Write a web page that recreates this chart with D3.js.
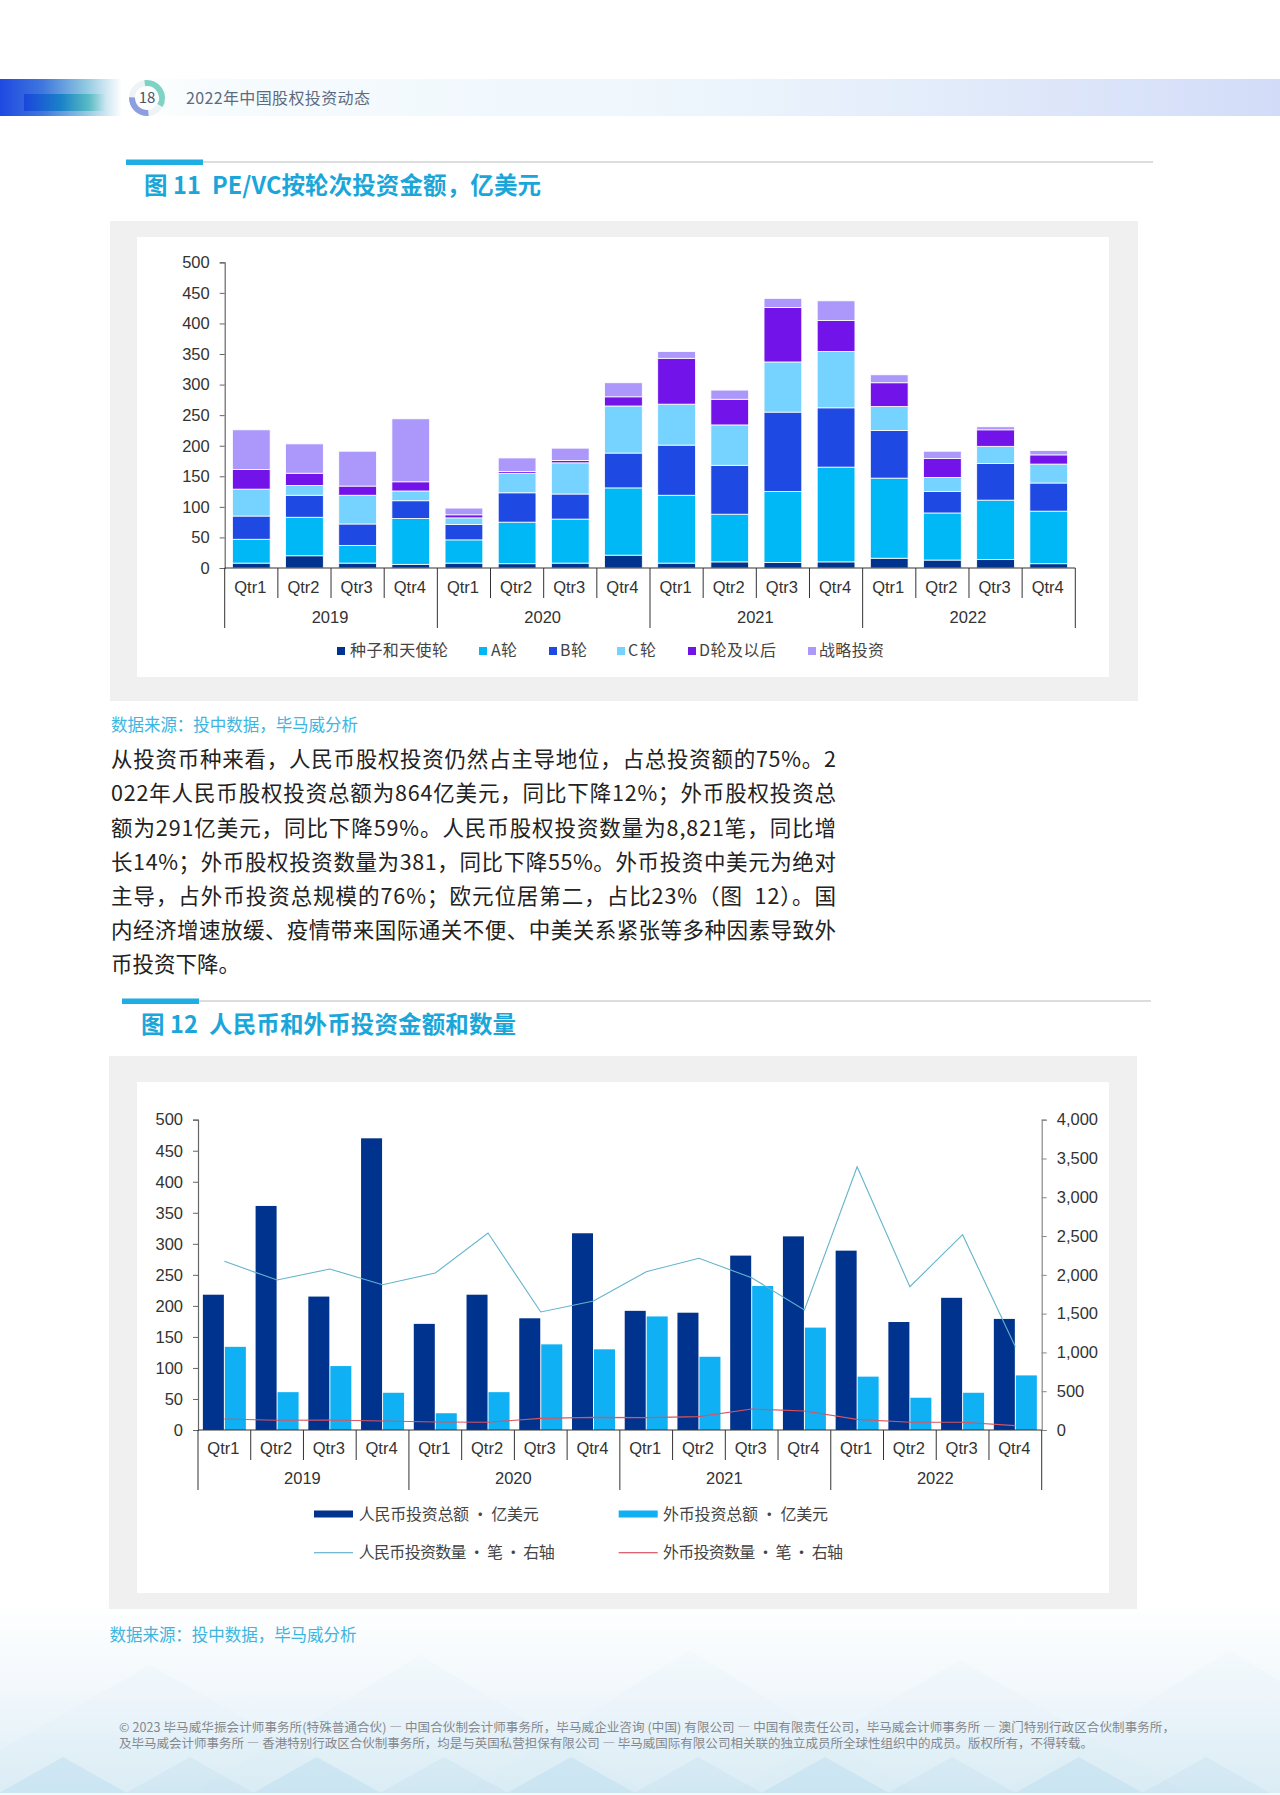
<!DOCTYPE html>
<html lang="zh"><head><meta charset="utf-8">
<script src="https://cdn.jsdelivr.net/npm/d3@7"></script>
<style>
html,body{margin:0;padding:0;background:#fff}
svg{display:block}
text{white-space:pre}
.cjk{font-family:"Noto Sans CJK SC","Noto Sans",sans-serif}
.lat{font-family:"Liberation Sans",Arial,sans-serif}
</style></head><body>
<svg id="page" width="1280" height="1795" viewBox="0 0 1280 1795"></svg>
<script>
// ---------- data ----------
const years = ["2019","2020","2021","2022"];
const quarters = ["Qtr1","Qtr2","Qtr3","Qtr4"];
const roundNames = ["种子和天使轮","A轮","B轮","C轮","D轮及以后","战略投资"];
const roundColors = ["#00338D","#00B8F5","#1E49E2","#76D2FF","#7213EA","#AC98FB"];
const seedAngel = [8,20,8,6,8,7,8,21,8,10,9,10,16,13,14,7];
const roundA = [39,63,29,75,38,68,72,110,111,78,116,155,131,77,97,86];
const roundB = [38,36,35,29,25,48,41,57,82,80,130,97,78,35,60,46];
const roundC = [44,16,47,16,11,32,51,77,67,66,82,92,39,23,28,31];
const roundD = [32,20,15,15,5,3,4,15,75,42,89,51,39,31,27,15];
const strategic = [65,48,57,103,11,22,20,23,11,15,15,32,13,12,5,7];
const rmbAmount = [218,361,215,470,171,218,180,317,192,189,281,312,289,174,213,179];
const fxAmount = [134,61,103,60,27,61,138,130,183,118,232,165,86,52,60,88];
const rmbCount = [2174,1933,2075,1873,2024,2539,1521,1663,2041,2213,1963,1547,3394,1847,2518,1074];
const fxCount = [142,125,129,116,103,99,150,163,159,172,271,245,137,99,99,56];
const leftTicks = [0,50,100,150,200,250,300,350,400,450,500];
const rightTicks = [0,500,1000,1500,2000,2500,3000,3500,4000];
const bodyLines = [
 "从投资币种来看，人民币股权投资仍然占主导地位，占总投资额的75%。2",
 "022年人民币股权投资总额为864亿美元，同比下降12%；外币股权投资总",
 "额为291亿美元，同比下降59%。人民币股权投资数量为8,821笔，同比增",
 "长14%；外币股权投资数量为381，同比下降55%。外币投资中美元为绝对",
 "主导，占外币投资总规模的76%；欧元位居第二，占比23%（图  12）。国",
 "内经济增速放缓、疫情带来国际通关不便、中美关系紧张等多种因素导致外",
 "币投资下降。"];
const footerLines = [
 "© 2023 毕马威华振会计师事务所(特殊普通合伙) — 中国合伙制会计师事务所，毕马威企业咨询 (中国) 有限公司 — 中国有限责任公司，毕马威会计师事务所 — 澳门特别行政区合伙制事务所，",
 "及毕马威会计师事务所 — 香港特别行政区合伙制事务所，均是与英国私营担保有限公司 — 毕马威国际有限公司相关联的独立成员所全球性组织中的成员。版权所有，不得转载。"];
const sourceText = "数据来源：投中数据，毕马威分析";

// ---------- helpers ----------
const svg = d3.select("#page");
const defs = svg.append("defs");
function grad(id, stops, vertical){
  const g = defs.append("linearGradient").attr("id",id)
    .attr("x1",0).attr("y1",0).attr("x2",vertical?0:1).attr("y2",vertical?1:0);
  stops.forEach(s=>g.append("stop").attr("offset",s[0]).attr("stop-color",s[1]).attr("stop-opacity",s[2]===undefined?1:s[2]));
}
function label(parent,x,y,str,size,color,opts={}){
  const isLat = opts.cls==="lat";
  const t = parent.append("text").attr("x",x-(isLat?1:0)).attr("y",y-(isLat?1:1.5)).text(str)
    .attr("class",opts.cls||"cjk").attr("font-size",size).attr("fill",color)
    .attr("text-anchor",opts.anchor||"start").attr("dominant-baseline","central");
  if(opts.weight) t.attr("font-weight",opts.weight);
  if(opts.len) t.attr("textLength",opts.len).attr("lengthAdjust","spacing");
  return t;
}
const allQuarters = years.flatMap(y=>quarters.map(q=>y+q));

// ---------- page background ----------
grad("foot",[[0,"#ffffff"],[.45,"#f2f8fc"],[1,"#dcedf6"]],true);
svg.append("rect").attr("x",0).attr("y",1600).attr("width",1280).attr("height",195).attr("fill","url(#foot)");
const bigPeaks = [[150,1665],[420,1655],[690,1650],[960,1660],[1230,1650]];
svg.append("g").selectAll("path").data(bigPeaks).join("path")
  .attr("d",d=>`M${d[0]-230},1795L${d[0]},${d[1]}L${d[0]+230},1795Z`)
  .attr("fill","#c6e2f0").attr("opacity",.07);
const smallPeaks = d3.range(10).map(i=>63+127*i);
svg.append("g").selectAll("path").data(smallPeaks).join("path")
  .attr("d",d=>`M${d-64},1793L${d},1757L${d+64},1793Z`)
  .attr("fill","#a9d4ea").attr("opacity",(d,i)=>i%2?.18:.3);
svg.append("rect").attr("x",0).attr("y",1793).attr("width",1280).attr("height",2).attr("fill","#f4f9fc");

// ---------- header ----------
grad("band",[[0,"#ffffff"],[.08,"#f6fbfd"],[.45,"#eff7fd"],[.72,"#e2ebfa"],[1,"#d2dcf8"]]);
grad("bandL",[[0,"#1e49e2"],[.35,"#3f77dd"],[.7,"#8fc8e0"],[1,"#ffffff"]]);
grad("bandI",[[0,"#1a46dc"],[.45,"#1a82c8"],[.8,"#52b9c0",.85],[1,"#7fd0c8",0]]);
svg.append("rect").attr("x",122).attr("y",79).attr("width",1158).attr("height",37).attr("fill","url(#band)");
svg.append("rect").attr("x",0).attr("y",79).attr("width",122).attr("height",37).attr("fill","url(#bandL)");
svg.append("rect").attr("x",24).attr("y",94).attr("width",82).attr("height",17).attr("fill","url(#bandI)");
const ring = d3.arc().innerRadius(12).outerRadius(18);
const ringG = svg.append("g").attr("transform","translate(147,98)");
ringG.append("circle").attr("r",15).attr("fill","none").attr("stroke","#eef3f6").attr("stroke-width",6);
ringG.append("path").attr("d",ring({startAngle:-.15,endAngle:2.1})).attr("fill","#7fd3c5");
ringG.append("path").attr("d",ring({startAngle:3.05,endAngle:4.75})).attr("fill","#8c9de0");
label(ringG,0,0,"18",15,"#4a5568",{anchor:"middle"});
label(svg,186,98.5,"2022年中国股权投资动态",16,"#5c6b80",{len:184});

// ---------- section titles ----------
function section(x0,x1,y,title,tx,tlen){
  svg.append("rect").attr("x",x0).attr("y",y-.75).attr("width",x1-x0).attr("height",1.5).attr("fill","#cfd2d4");
  svg.append("rect").attr("x",x0).attr("y",y-2.5).attr("width",77).attr("height",5.5).attr("fill","#1eaee3");
  label(svg,tx,y+23,title,23.5,"#1ba6da",{weight:700,len:tlen});
}
section(126,1153,162,"图 11  PE/VC按轮次投资金额，亿美元",144,397);
section(122,1151,1001,"图 12  人民币和外币投资金额和数量",141,375);

// ---------- panels ----------
function panel(x,y,w,h,ix,iy,iw,ih){
  svg.append("rect").attr("x",x).attr("y",y).attr("width",w).attr("height",h).attr("fill","#f0f0f0");
  svg.append("rect").attr("x",ix).attr("y",iy).attr("width",iw).attr("height",ih).attr("fill","#fff");
}
panel(110,221,1028,480,137,237,972,440);
panel(109,1056,1028,553,137,1082,972,511);

// ---------- body ----------
label(svg,111,725,sourceText,16.5,"#3db5df",{len:247});
bodyLines.forEach((l,i)=>{
  label(svg,111,759.3+i*34.15,l,21.5,"#222222",i<6?{len:725}:{});
});
label(svg,109.5,1635,sourceText,16.5,"#3db5df",{len:247});
label(svg,119,1728,footerLines[0],12.5,"#83888e",{len:1056});
label(svg,119,1744,footerLines[1],12.5,"#83888e",{len:974});

// ---------- shared axis drawing ----------
function yAxisStyle(g,color){
  g.selectAll(".domain").attr("stroke",color).attr("stroke-width",1.2);
  g.selectAll(".tick line").attr("stroke",color);
  g.selectAll(".tick text").attr("class","lat").attr("font-size",16.5).attr("fill","#333").attr("font-family",null);
}
function multiLevelX(g,x,y0,qY,yrY,qEnd,yrEnd){
  const color="#333";
  const step=x.step();
  const x0=x.range()[0], x1=x.range()[1];
  g.append("line").attr("x1",x0).attr("x2",x1).attr("y1",y0).attr("y2",y0).attr("stroke",color).attr("stroke-width",1.2);
  allQuarters.forEach((k,i)=>{
    const xx=x0+i*step;
    const isYear=i%4===0;
    if(!isYear) g.append("line").attr("x1",xx).attr("x2",xx).attr("y1",y0).attr("y2",qEnd).attr("stroke",color);
    label(g,xx+step/2,qY,quarters[i%4],16.5,"#333",{cls:"lat",anchor:"middle"});
  });
  years.forEach((yr,i)=>{
    const xx=x0+i*4*step;
    g.append("line").attr("x1",xx).attr("x2",xx).attr("y1",y0).attr("y2",yrEnd).attr("stroke",color);
    label(g,xx+2*step,yrY,yr,16.5,"#333",{cls:"lat",anchor:"middle"});
  });
  g.append("line").attr("x1",x1).attr("x2",x1).attr("y1",y0).attr("y2",yrEnd).attr("stroke",color);
}

// ---------- chart 11: stacked bars ----------
(function(){
  const g=svg.append("g");
  const x=d3.scaleBand().domain(allQuarters).range([224.7,1075.3]).paddingInner(.29).paddingOuter(.145);
  const y=d3.scaleLinear().domain([0,500]).range([568,262.3]);
  const seriesArr=[seedAngel,roundA,roundB,roundC,roundD,strategic];
  const rows=allQuarters.map((q,i)=>{const o={q};seriesArr.forEach((s,j)=>o[j]=s[i]);return o;});
  const stacked=d3.stack().keys(d3.range(6))(rows);
  g.selectAll("g.s").data(stacked).join("g").attr("class","s").attr("fill",(d,i)=>roundColors[i])
    .selectAll("rect").data(d=>d).join("rect")
    .attr("x",d=>x(d.data.q)).attr("width",x.bandwidth())
    .attr("y",d=>y(d[1])).attr("height",d=>y(d[0])-y(d[1]))
    .attr("stroke","#fff").attr("stroke-width",.8);
  const ax=g.append("g").attr("transform","translate(224.7,0)")
    .call(d3.axisLeft(y).tickValues(leftTicks).tickSize(5).tickPadding(10));
  yAxisStyle(ax,"#666");
  multiLevelX(g,x,568,587.7,617.7,598,628);
  const lg=[[337,350,98],[479,491,26],[549,560,27],[617,628,28],[688,699,77],[808,819,65]];
  roundNames.forEach((n,i)=>{
    g.append("rect").attr("x",lg[i][0]).attr("y",647).attr("width",8).attr("height",8).attr("fill",roundColors[i]);
    label(g,lg[i][1],650.7,n,16,"#444",{len:lg[i][2]});
  });
})();

// ---------- chart 12: grouped bars + lines ----------
(function(){
  const g=svg.append("g");
  const x=d3.scaleBand().domain(allQuarters).range([198,1041.7]);
  const inner=d3.scaleBand().domain([0,1]).range([x.bandwidth()/2-21.5,x.bandwidth()/2+21.5]).paddingInner(.045);
  const yL=d3.scaleLinear().domain([0,500]).range([1430,1119.7]);
  const yR=d3.scaleLinear().domain([0,4000]).range([1430,1119.7]);
  const barColors=["#00338D","#0FB1F4"];
  [rmbAmount,fxAmount].forEach((s,j)=>{
    g.append("g").attr("fill",barColors[j]).selectAll("rect").data(s).join("rect")
      .attr("x",(d,i)=>x(allQuarters[i])+inner(j)).attr("width",inner.bandwidth())
      .attr("y",d=>yL(d)).attr("height",d=>1430-yL(d));
  });
  const lineColors=["#63B4CC","#D9545F"];
  [rmbCount,fxCount].forEach((s,j)=>{
    const line=d3.line().x((d,i)=>x(allQuarters[i])+x.bandwidth()/2).y(d=>yR(d));
    g.append("path").attr("d",line(s)).attr("fill","none").attr("stroke",lineColors[j]).attr("stroke-width",1.1);
  });
  const ax=g.append("g").attr("transform","translate(198,0)")
    .call(d3.axisLeft(yL).tickValues(leftTicks).tickSize(5).tickPadding(10));
  yAxisStyle(ax,"#666");
  const ar=g.append("g").attr("transform","translate(1041.7,0)")
    .call(d3.axisRight(yR).tickValues(rightTicks).tickFormat(d3.format(",")).tickSize(5).tickPadding(10));
  yAxisStyle(ar,"#888");
  multiLevelX(g,x,1430,1449,1479,1460,1490);
  const lg=[
    {t:"人民币投资总额 · 亿美元",sx:314,ty:1514,tx:358.7,len:180,c:barColors[0],h:7},
    {t:"外币投资总额 · 亿美元",sx:618.7,ty:1514,tx:663,len:165,c:barColors[1],h:7},
    {t:"人民币投资数量 · 笔 · 右轴",sx:314,ty:1552.7,tx:358.7,len:196,c:lineColors[0],h:1.2},
    {t:"外币投资数量 · 笔 · 右轴",sx:618.7,ty:1552.7,tx:663,len:180,c:lineColors[1],h:1.2}];
  lg.forEach(d=>{
    g.append("rect").attr("x",d.sx).attr("y",d.ty-d.h/2).attr("width",39).attr("height",d.h).attr("fill",d.c);
    label(g,d.tx,d.ty,d.t,16,"#444",{len:d.len});
  });
})();
</script>
</body></html>
